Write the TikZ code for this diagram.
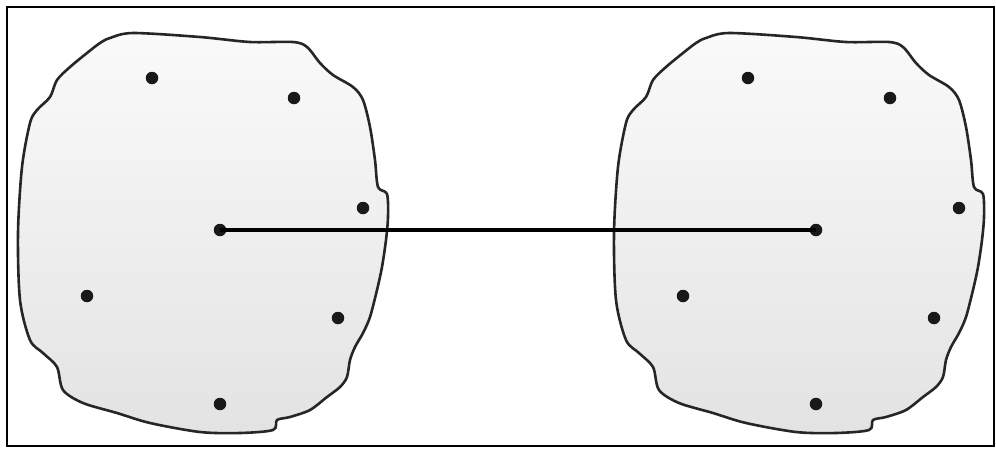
\documentclass[tikz,border=0pt]{standalone}
\begin{document}
\begin{tikzpicture}[x=1pt,y=-1pt,
  blob/.style={draw=black!85,line width=2.6pt,top color=black!2,bottom color=black!11},
  pt/.style={circle,fill=black!90,inner sep=0pt,minimum size=12.5pt},
  link/.style={line width=3.6pt,black}]
\useasboundingbox (0,0) rectangle (996,448);
\draw[line width=2pt] (7,7) rectangle (994,446);
\foreach \s/\n in {0/L,596/R}{
  \begin{scope}[xshift=\s]
  \draw[blob] plot[smooth cycle,tension=0.5] coordinates {
    (110,38) (133,33) (200,37) (250,42) (293,42) (307,47) (320,63) (333,75)
    (353,87) (363,100) (370,127) (375,160) (378,187) (387,194) (388,217)
    (386,240) (382,267) (377,290) (370,317) (363,333) (355,347) (350,360)
    (347,377) (340,387) (327,397) (310,410) (290,417) (277,420) (273,430)
    (240,433) (200,432) (150,423) (117,413) (83,403) (63,390) (57,367)
    (43,353) (30,340) (20,300) (18,233) (22,167) (30,123) (37,110) (50,97)
    (57,80) (70,67) (87,53) (100,43)};
  \node[pt] (\n c) at (220,230) {};
  \node[pt] (\n 1) at (152,78) {};
  \node[pt] (\n 2) at (294,98) {};
  \node[pt] (\n 3) at (363,208) {};
  \node[pt] (\n 4) at (87,296) {};
  \node[pt] (\n 5) at (338,318) {};
  \node[pt] (\n 6) at (220,404) {};
  \end{scope}
}
\draw[link] (Lc.center) -- (Rc.center);
\end{tikzpicture}
\end{document}
